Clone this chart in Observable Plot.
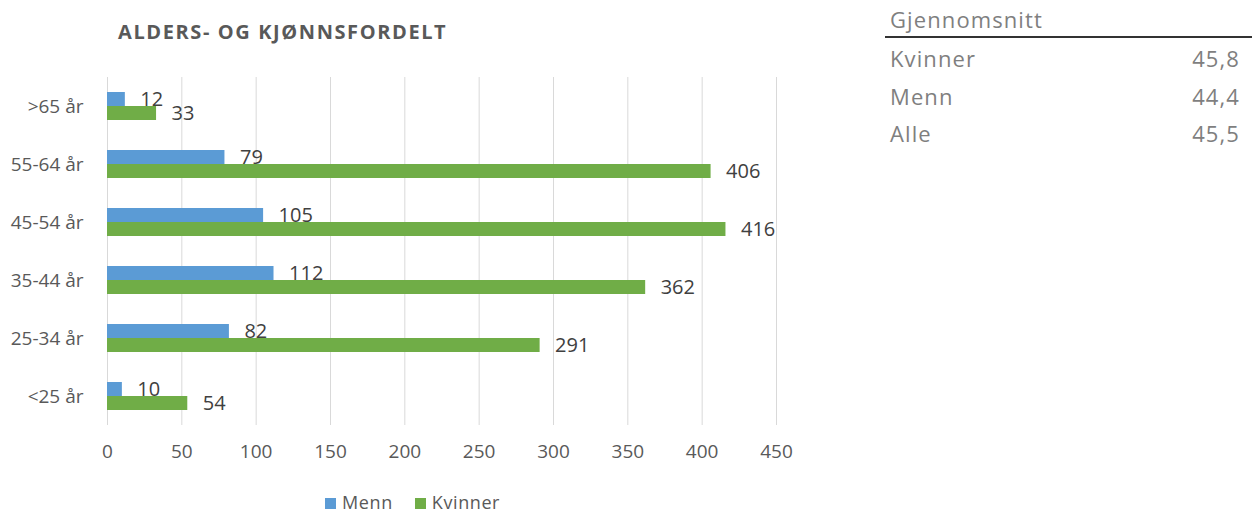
<!DOCTYPE html>
<html>
<head>
<meta charset="utf-8">
<script src="https://cdn.jsdelivr.net/npm/d3@7"></script>
<script src="https://cdn.jsdelivr.net/npm/@observablehq/plot@0.6"></script>
<style>
  html, body { margin: 0; padding: 0; background: #fff; }
  body { width: 1252px; height: 514px; position: relative; overflow: hidden; font-family: "Open Sans", sans-serif; }
  #title { position: absolute; left: 118px; top: 18px; font-size: 20px; font-weight: 700; color: #595959; letter-spacing: 1.6px; white-space: nowrap; }
  #chart { position: absolute; left: 0; top: 60px; }
  #legend { position: absolute; left: 325px; top: 490px; font-size: 18px; letter-spacing: 0.6px; color: #595959; white-space: nowrap; }
  #legend span.item { margin-right: 22px; }
  #legend span.sw { display: inline-block; width: 11px; height: 11px; margin-right: 6px; vertical-align: 0px; }
  #table { position: absolute; left: 885px; top: 3px; width: 367px; font-size: 22px; letter-spacing: 1.1px; color: #7f7f7f; }
  #table .hdr { padding-left: 5px; height: 33px; line-height: 33px; border-bottom: 2px solid #333; }
  #table .row { display: flex; justify-content: space-between; padding-left: 5px; padding-right: 12px; height: 37.5px; line-height: 40px; }
</style>
</head>
<body>
<div id="title">ALDERS- OG KJØNNSFORDELT</div>
<div id="chart"></div>
<div id="legend"></div>
<div id="table"></div>
<script>
const categories = [">65 år", "55-64 år", "45-54 år", "35-44 år", "25-34 år", "<25 år"];
const series = ["Menn", "Kvinner"];
const menn = [12, 79, 105, 112, 82, 10];
const kvinner = [33, 406, 416, 362, 291, 54];
const colors = ["#5B9BD5", "#70AD47"];
const xTicks = [0, 50, 100, 150, 200, 250, 300, 350, 400, 450];
const tableHeader = "Gjennomsnitt";
const tableLabels = ["Kvinner", "Menn", "Alle"];
const tableValues = ["45,8", "44,4", "45,5"];

const rows = [];
categories.forEach((c, i) => {
  rows.push({age: c, series: "Menn", value: menn[i]});
  rows.push({age: c, series: "Kvinner", value: kvinner[i]});
});

const chart = Plot.plot({
  width: 820,
  height: 405,
  marginTop: 17,
  marginBottom: 40,
  marginLeft: 107,
  marginRight: 44,
  style: {fontFamily: "Open Sans, sans-serif", fontSize: "19px", color: "#595959", background: "transparent"},
  x: {domain: [0, 450], ticks: xTicks, tickSize: 0, tickPadding: 19, label: null},
  fy: {domain: categories, padding: 0, label: null, tickSize: 0, tickPadding: 24, axis: "left"},
  y: {domain: series, paddingInner: 0, paddingOuter: 1, axis: null},
  color: {domain: series, range: colors},
  marks: [
    Plot.ruleX(xTicks, {x: d => d, stroke: "#d9d9d9", strokeWidth: 1}),
    Plot.barX(rows, {x: "value", y: "series", fy: "age", fill: "series"}),
    Plot.text(rows, {x: "value", y: "series", fy: "age", text: d => String(d.value), dx: 15, textAnchor: "start", fill: "#404040", fontSize: 20})
  ]
});
document.getElementById("chart").appendChild(chart);

const legend = document.getElementById("legend");
series.forEach((s, i) => {
  const item = document.createElement("span");
  item.className = "item";
  const sw = document.createElement("span");
  sw.className = "sw";
  sw.style.background = colors[i];
  item.appendChild(sw);
  item.appendChild(document.createTextNode(s));
  legend.appendChild(item);
});

const table = document.getElementById("table");
const hdr = document.createElement("div");
hdr.className = "hdr";
hdr.textContent = tableHeader;
table.appendChild(hdr);
tableLabels.forEach((l, i) => {
  const r = document.createElement("div");
  r.className = "row";
  const a = document.createElement("span"); a.textContent = l;
  const b = document.createElement("span"); b.textContent = tableValues[i];
  r.appendChild(a); r.appendChild(b);
  table.appendChild(r);
});
</script>
</body>
</html>
